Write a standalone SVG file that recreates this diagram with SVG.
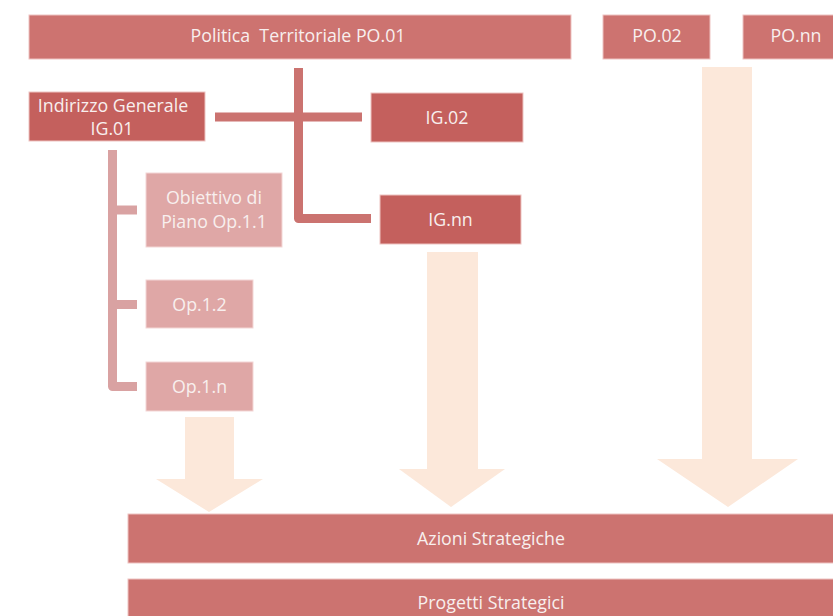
<svg xmlns="http://www.w3.org/2000/svg" width="833" height="616" viewBox="0 0 833 616">
<style>
.po{fill:#cd7370;stroke:#eec3c1;stroke-width:1}
.ig{fill:#c4605d;stroke:#eec3c1;stroke-width:1}
.op{fill:#dfa7a6;stroke:#f3d6d5;stroke-width:1}
.bar{fill:#cc7370;stroke:#eec3c1;stroke-width:1}
.arrow{fill:#fce8da}
text{font-family:"Open Sans","Liberation Sans",sans-serif;font-size:17.8px;fill:#f8efee;text-anchor:middle;white-space:pre}
.c1{fill:none;stroke:#cb7370;stroke-width:9;stroke-linejoin:round}
.c2{fill:none;stroke:#d9a2a2;stroke-width:9;stroke-linejoin:round}
</style>
<rect width="833" height="616" fill="#ffffff"/>
<g id="arrows">
<polygon class="arrow" points="185,417 234,417 234,479 263,479 209,512 156,479 185,479"/>
<polygon class="arrow" points="427,252 478,252 478,469 505,469 451,507 399,469 427,469"/>
<polygon class="arrow" points="702,67 752,67 752,459 798,459 728,507 657,459 702,459"/>
</g>
<g id="connectors">
<path class="c1" d="M215 117 H362"/>
<path class="c1" d="M298.5 68 V218.5 H371"/>
<path class="c2" d="M112.5 150 V386.5 H137"/>
<path class="c2" d="M112.5 210 H137"/>
<path class="c2" d="M112.5 304.5 H137"/>
</g>
<g id="PO01"><rect class="po" x="29" y="15" width="542" height="44"/><text x="298" y="41.5">Politica  Territoriale PO.01</text></g>
<g id="PO02"><rect class="po" x="603" y="15" width="107" height="44"/><text x="657" y="41.5">PO.02</text></g>
<g id="POnn"><rect class="po" x="743" y="15" width="95" height="44"/><text x="796" y="41.5">PO.nn</text></g>
<g id="IG01"><rect class="ig" x="29" y="92" width="176" height="49"/><text x="113" y="112">Indirizzo Generale</text><text x="112" y="135">IG.01</text></g>
<g id="IG02"><rect class="ig" x="371" y="93" width="152" height="49"/><text x="447" y="123.5">IG.02</text></g>
<g id="IGnn"><rect class="ig" x="380" y="195" width="141" height="49"/><text x="450.5" y="225.5">IG.nn</text></g>
<g id="Op11"><rect class="op" x="146" y="173" width="136" height="74"/><text x="214" y="204">Obiettivo di</text><text x="214" y="228">Piano Op.1.1</text></g>
<g id="Op12"><rect class="op" x="146" y="280" width="107" height="48"/><text x="199.5" y="310.5">Op.1.2</text></g>
<g id="Op1n"><rect class="op" x="146" y="362" width="107" height="49"/><text x="199.5" y="393">Op.1.n</text></g>
<g id="Azioni"><rect class="bar" x="128" y="514" width="710" height="49"/><text x="491" y="545">Azioni Strategiche</text></g>
<g id="Progetti"><rect class="bar" x="128" y="579" width="710" height="45"/><text x="491" y="609">Progetti Strategici</text></g>
</svg>
